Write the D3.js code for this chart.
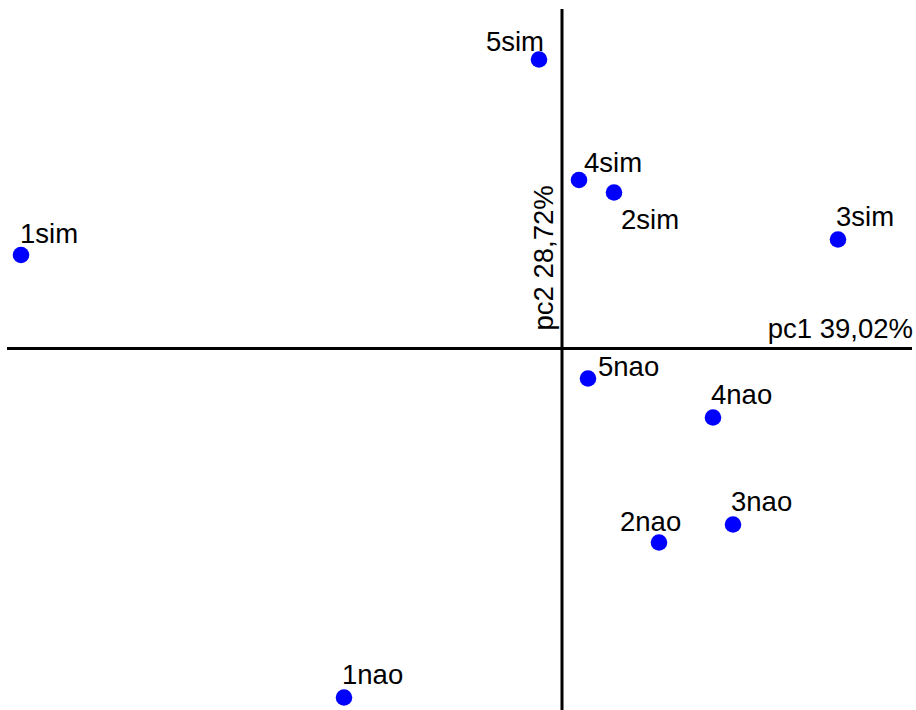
<!DOCTYPE html>
<html>
<head>
<meta charset="utf-8">
<script src="https://cdn.jsdelivr.net/npm/d3@7"></script>
<style>
  html, body { margin: 0; padding: 0; background: #fff; }
  svg { display: block; }
  text { font-family: "Liberation Sans", Arial, sans-serif; fill: #000; }
</style>
</head>
<body>
<svg id="chart" width="916" height="710"></svg>
<script>
// Sample labels
const samples = ["1sim", "2sim", "3sim", "4sim", "5sim", "1nao", "2nao", "3nao", "4nao", "5nao"];
// PC1 scores
const pc1 = [-5.41, 0.52, 2.76, 0.17, -0.23, -2.18, 0.97, 1.71, 1.51, 0.26];
// PC2 scores
const pc2 = [0.935, 1.56, 1.09, 1.685, 2.89, -3.49, -1.94, -1.76, -0.69, -0.30];
// Axis titles
const xTitle = "pc1 39,02%";
const yTitle = "pc2 28,72%";

// Label placement (text anchor and pixel offsets from the point)
const labelPlacement = [
  { anchor: "start", dx: -1, dy: -12 },
  { anchor: "start", dx: 7, dy: 36 },
  { anchor: "start", dx: -2, dy: -14 },
  { anchor: "start", dx: 5, dy: -8 },
  { anchor: "end", dx: 5, dy: -9 },
  { anchor: "start", dx: -2, dy: -14 },
  { anchor: "start", dx: -39, dy: -12 },
  { anchor: "start", dx: -2, dy: -14 },
  { anchor: "start", dx: -2, dy: -14 },
  { anchor: "start", dx: 10, dy: -3 }
];

const W = 916, H = 710;
const FS = "27.5px";
const svg = d3.select("#chart");

const x = d3.scaleLinear().domain([-5.62, 3.54]).range([0, W]);
const y = d3.scaleLinear().domain([3.485, -3.615]).range([0, H]);

const data = samples.map((s, i) => ({ name: s, x: pc1[i], y: pc2[i], lp: labelPlacement[i] }));

// Axes through the origin
svg.append("line")
  .attr("x1", x(-5.55)).attr("x2", x(3.5))
  .attr("y1", y(0)).attr("y2", y(0))
  .attr("stroke", "#000").attr("stroke-width", 3);
svg.append("line")
  .attr("x1", x(0)).attr("x2", x(0))
  .attr("y1", y(3.395)).attr("y2", y(-3.615))
  .attr("stroke", "#000").attr("stroke-width", 3);

// Axis titles
svg.append("text")
  .attr("x", x(3.5) + 1).attr("y", y(0) - 11)
  .attr("text-anchor", "end")
  .style("font-size", FS)
  .text(xTitle);
svg.append("text")
  .attr("transform", `translate(${x(0) - 9},${y(0) - 18}) rotate(-90)`)
  .attr("text-anchor", "start")
  .style("font-size", FS)
  .text(yTitle);

// Points
svg.selectAll("circle.pt").data(data).join("circle")
  .attr("class", "pt")
  .attr("cx", d => x(d.x)).attr("cy", d => y(d.y))
  .attr("r", 8.3)
  .attr("fill", "#0000ff");

// Point labels
svg.selectAll("text.lbl").data(data).join("text")
  .attr("class", "lbl")
  .attr("x", d => x(d.x) + d.lp.dx)
  .attr("y", d => y(d.y) + d.lp.dy)
  .attr("text-anchor", d => d.lp.anchor)
  .style("font-size", FS)
  .text(d => d.name);
</script>
</body>
</html>
